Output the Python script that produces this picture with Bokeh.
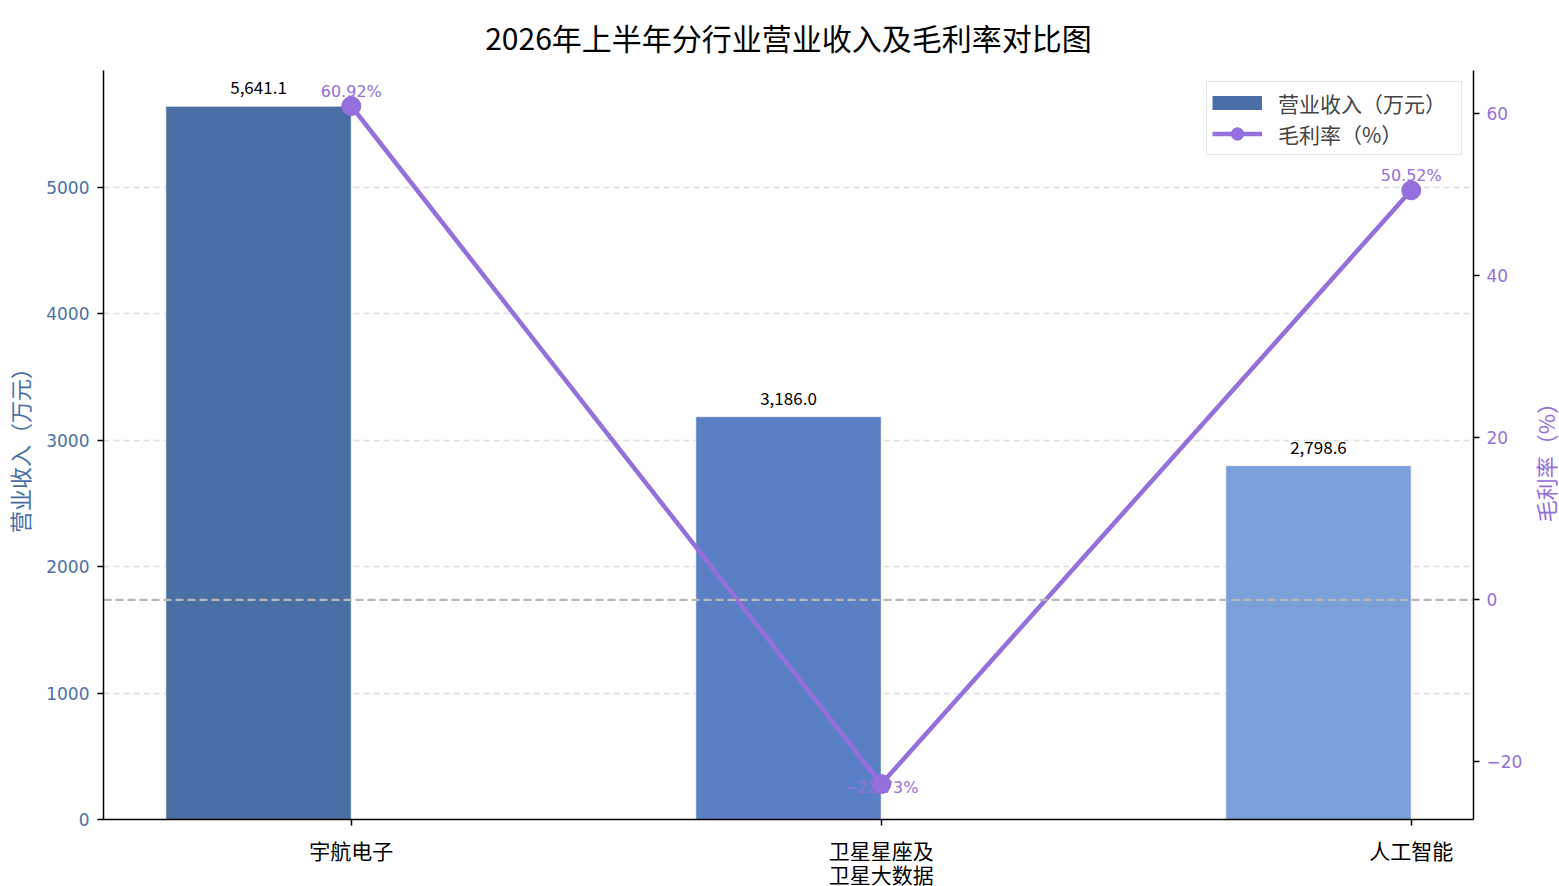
import math
from bokeh.plotting import figure
from bokeh.layouts import row
from bokeh.models import (ColumnDataSource, Range1d, LinearAxis, FixedTicker, Span,
                          Legend, LegendItem)
from bokeh.core.properties import value
from bokeh.embed import file_html
from bokeh.resources import INLINE

# ---- data ----
categories = ["宇航电子", "卫星星座及\n卫星大数据", "人工智能"]
revenue = [5641.1, 3186.0, 2798.6]
margin = [60.92, -22.73, 50.52]
bar_colors = ["#4a6fa5", "#5b7fc4", "#7b9fd9"]
title_text = "2026年上半年分行业营业收入及毛利率对比图"
left_label = "营业收入（万元）"
right_label = "毛利率（%）"
left_ticks = [0, 1000, 2000, 3000, 4000, 5000]
right_ticks = [-20, 0, 20, 40, 60]

CJK = "Noto Sans CJK SC"
PURPLE = "#9370DB"
BLUE_TXT = "#4a6fa5"
bar_w = 0.35
FW, FH = 1370, 749
PCT_LO, PCT_HI = -27.1, 65.3

idx = list(range(len(categories)))
bar_x = [i - bar_w / 2 for i in idx]
src_bar = ColumnDataSource(dict(x=bar_x, top=revenue, color=bar_colors,
                                lab=[f"{v:,.1f}" for v in revenue]))
src_line = ColumnDataSource(dict(x=idx, y=margin))
pos = [i for i in idx if margin[i] >= 0]
neg = [i for i in idx if margin[i] < 0]
fmt = lambda v: (f"{v:.2f}%").replace("-", "\u2212")
src_pos = ColumnDataSource(dict(x=pos, y=[margin[i] for i in pos], t=[fmt(margin[i]) for i in pos]))
src_neg = ColumnDataSource(dict(x=neg, y=[margin[i] for i in neg], t=[fmt(margin[i]) for i in neg]))

ymax = max(revenue) * 1.05
p = figure(frame_width=FW, frame_height=FH, output_backend="svg", toolbar_location=None,
           x_range=Range1d(-0.4675, 2.1175), y_range=Range1d(0, ymax),
           min_border_left=94, min_border_right=45, min_border_top=63, min_border_bottom=60)
p.extra_y_ranges = {"pct": Range1d(PCT_LO, PCT_HI)}
p.outline_line_color = None
p.background_fill_color = "white"
p.border_fill_color = "white"

p.title.text = title_text
p.title.align = "center"
p.title.text_font = CJK
p.title.text_font_size = "30px"
p.title.text_font_style = "normal"
p.title.text_color = "black"
p.title.text_line_height = 0.7
p.title.standoff = 24

# grid
p.xgrid.visible = False
p.ygrid.ticker = FixedTicker(ticks=left_ticks)
p.ygrid.grid_line_color = "#dedede"
p.ygrid.grid_line_dash = "6 4"
p.ygrid.grid_line_width = 1.3

# axes
def style_axis(ax, color_lbl):
    ax.axis_line_color = "black"
    ax.axis_line_width = 1.5
    ax.major_tick_line_color = "black"
    ax.major_tick_line_width = 1.5
    ax.major_tick_out = 6
    ax.major_tick_in = 0
    ax.minor_tick_line_color = None
    ax.major_label_text_color = color_lbl
    ax.major_label_standoff = 8

xa = p.xaxis[0]
style_axis(xa, "black")
xa.ticker = FixedTicker(ticks=idx)
xa.major_label_overrides = {i: c for i, c in zip(idx, categories)}
xa.major_label_text_font = CJK
xa.major_label_text_font_size = "21px"
xa.major_label_text_line_height = 0.82
xa.major_label_standoff = 9

ya = p.yaxis[0]
style_axis(ya, BLUE_TXT)
ya.ticker = FixedTicker(ticks=left_ticks)
ya.major_label_text_font = "DejaVu Sans"
ya.major_label_text_font_size = "17px"
ya.axis_label = left_label
ya.axis_label_text_font = CJK
ya.axis_label_text_font_size = "22px"
ya.axis_label_text_font_style = "normal"
ya.axis_label_text_color = BLUE_TXT
ya.axis_label_standoff = 8

ra = LinearAxis(y_range_name="pct")
style_axis(ra, PURPLE)
ra.ticker = FixedTicker(ticks=right_ticks)
ra.major_label_overrides = {t: str(t).replace("-", "\u2212") for t in right_ticks}
ra.major_label_text_font = "DejaVu Sans"
ra.major_label_text_font_size = "17px"
ra.major_label_standoff = 7
p.add_layout(ra, "right")

# bars
bars = p.vbar(x="x", top="top", width=bar_w, bottom=0, fill_color="color",
              line_color="white", line_width=0.8, source=src_bar)
p.text(x="x", y="top", text="lab", source=src_bar, text_align="center",
       text_baseline="bottom", y_offset=-12, text_font=value(CJK),
       text_font_size="17px", text_color="black")

# zero line
zl = Span(location=0, dimension="width", y_range_name="pct", line_color="#b8b8b8",
          line_dash="8 4", line_width=2.2, level="glyph")
p.add_layout(zl)

# margin labels
p.text(x="x", y="y", text="t", source=src_pos, y_range_name="pct", text_align="center",
       text_baseline="bottom", y_offset=-5, text_font=value("DejaVu Sans"),
       text_font_size="16px", text_color=PURPLE)
p.text(x="x", y="y", text="t", source=src_neg, y_range_name="pct", text_align="center",
       text_baseline="middle", y_offset=3, text_font=value("DejaVu Sans"),
       text_font_size="16px", text_color=PURPLE)

# line
ln = p.line(x="x", y="y", source=src_line, y_range_name="pct", line_color=PURPLE, line_width=4.5)
pts = p.scatter(x="x", y="y", source=src_line, y_range_name="pct", size=19,
                fill_color=PURPLE, line_color=PURPLE)

# legend swatch for the bars (NaN data: only drawn in the legend)
swatch = p.line(x=[float("nan")], y=[float("nan")], line_color=bar_colors[0],
                line_width=14, line_cap="butt")

legend = Legend(items=[LegendItem(label=left_label, renderers=[swatch]),
                       LegendItem(label=right_label, renderers=[ln, pts])],
                location="top_right")
legend.label_text_font = CJK
legend.label_text_font_size = "21px"
legend.label_height = 31
legend.label_width = 178
legend.glyph_height = 31
legend.glyph_width = 50
legend.label_standoff = 16
legend.padding = 5
legend.spacing = 0
legend.margin = 11
legend.border_line_color = "#cccccc"
legend.border_line_width = 1.5
legend.background_fill_alpha = 0.85
p.add_layout(legend)

# narrow strip to the right holding the right-axis title (reads bottom-to-top)
p2 = figure(frame_width=34, frame_height=FH, output_backend="svg", toolbar_location=None,
            x_range=Range1d(0, 1), y_range=Range1d(0, 1),
            min_border_left=0, min_border_right=0, min_border_top=56, min_border_bottom=0)
p2.axis.visible = False
p2.grid.visible = False
p2.outline_line_color = None
p2.border_fill_color = "white"
p2.background_fill_color = "white"
p2.text(x=[0.5], y=[0.5], text=[right_label], angle=math.pi / 2, text_align="center",
        text_baseline="middle", x_offset=2, y_offset=12, text_font=value(CJK),
        text_font_size="22px", text_color=PURPLE)

layout = row(p, p2, spacing=0)
open("out.html", "w").write(file_html(layout, INLINE))
